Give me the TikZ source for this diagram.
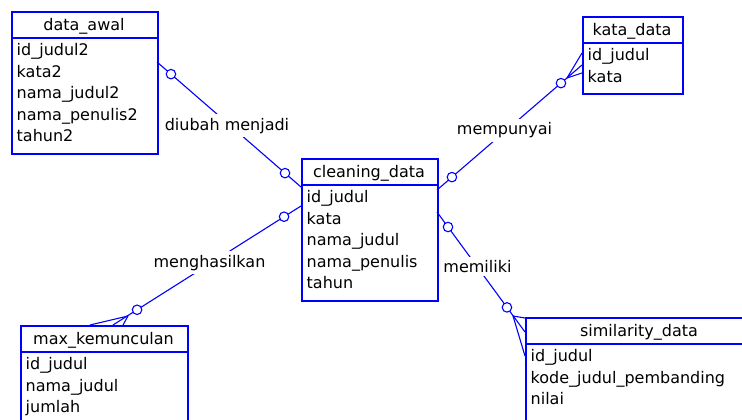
\documentclass[tikz,border=0pt]{standalone}
\usepackage{fontspec}
\setmainfont{DejaVu Sans}
\definecolor{erblue}{RGB}{0,0,255}
\tikzset{
  ebox/.style={draw=erblue, line width=1.6pt, rectangle, inner sep=0pt, anchor=north west},
  ediv/.style={draw=erblue, line width=1.6pt},
  etitle/.style={anchor=base, inner sep=0pt, text=black},
  eattr/.style={anchor=base west, inner sep=0pt, text=black},
  rel/.style={draw=erblue, line width=1.1pt},
  zc/.style={circle, draw=erblue, fill=white, line width=1.1pt, minimum size=9.5pt, inner sep=0pt},
  rlabel/.style={fill=white, anchor=base, inner xsep=1pt, inner ysep=3.5pt, text=black},
}
% entity: id, left, top, right, divider, bottom, title, attributes
\newcommand\erentity[8]{%
  \node[ebox, minimum width={#4-#2}, minimum height={#6-#3}] (#1) at (#2,#3) {};
  \draw[ediv] (#2,#5) -- (#4,#5);
  \node[etitle] (#1-title) at ({(#2+#4)/2},{#5-7.5}) {#7};
  \foreach \attr [count=\i from 0] in {#8}
    \node[eattr] (#1-\i) at ({#2+5.5},{#5+17.5+21.6*\i}) {\attr};
}
\begin{document}
\begin{tikzpicture}[x=1pt, y=-1pt, font=\fontsize{16}{19}\selectfont]
\useasboundingbox (0,0) rectangle (742,420);
\fill[white] (0,0) rectangle (742,420);

% connector end points on the entity borders
\coordinate (awal-r) at (157,62);
\coordinate (clean-l1) at (301,187);
\coordinate (clean-l2) at (301,206);
\coordinate (clean-r1) at (437,190);
\coordinate (clean-r2) at (437,212);
\coordinate (kata-l) at (582,65);
\coordinate (sim-l) at (525,332);
\coordinate (maxk-t) at (113,325);
% crow's feet
\coordinate (kata-f) at (567,78);
\coordinate (kata-p1) at (582,53);
\coordinate (kata-p2) at (582,73);
\coordinate (sim-f) at (513,316);
\coordinate (sim-p1) at (525,318);
\coordinate (sim-p2) at (525,356);
\coordinate (maxk-f) at (128,316);
\coordinate (maxk-p1) at (90,325);
\coordinate (maxk-p2) at (123,325);

% relationships
\draw[rel] (awal-r) -- node[zc, pos=0.097] (c-a1) {} node[zc, pos=0.889] (c-a2) {} (clean-l1);
\draw[rel] (clean-r1) -- node[zc, pos=0.103] (c-b1) {} node[zc, pos=0.855] (c-b2) {} (kata-l);
\draw[rel] (kata-f) -- (kata-p1) (kata-f) -- (kata-p2);
\draw[rel] (clean-l2) -- node[zc, pos=0.09] (c-c1) {} node[zc, pos=0.872] (c-c2) {} (maxk-t);
\draw[rel] (maxk-f) -- (maxk-p1) (maxk-f) -- (maxk-p2);
\draw[rel] (clean-r2) -- node[zc, pos=0.125] (c-d1) {} node[zc, pos=0.795] (c-d2) {} (sim-l);
\draw[rel] (sim-f) -- (sim-p1) (sim-f) -- (sim-p2);

\node[rlabel] (lbl-diubah) at (227,130) {diubah menjadi};
\node[rlabel] (lbl-mempunyai) at (504.5,135) {mempunyai};
\node[rlabel] (lbl-menghasilkan) at (209.5,267) {menghasilkan};
\node[rlabel] (lbl-memiliki) at (477.5,272.7) {memiliki};

% entities
\erentity{awal}{11}{11}{157}{38}{153}{data\_awal}{id\_judul2,kata2,nama\_judul2,nama\_penulis2,tahun2}
\erentity{clean}{301}{158}{437}{185}{300}{cleaning\_data}{id\_judul,kata,nama\_judul,nama\_penulis,tahun}
\erentity{kata}{582}{16}{682}{43}{93}{kata\_data}{id\_judul,kata}
\erentity{sim}{525}{317}{753}{344}{428}{similarity\_data}{id\_judul,kode\_judul\_pembanding,nilai}
\erentity{maxk}{20}{325}{187}{352}{428}{max\_kemunculan}{id\_judul,nama\_judul,jumlah}
\end{tikzpicture}
\end{document}
